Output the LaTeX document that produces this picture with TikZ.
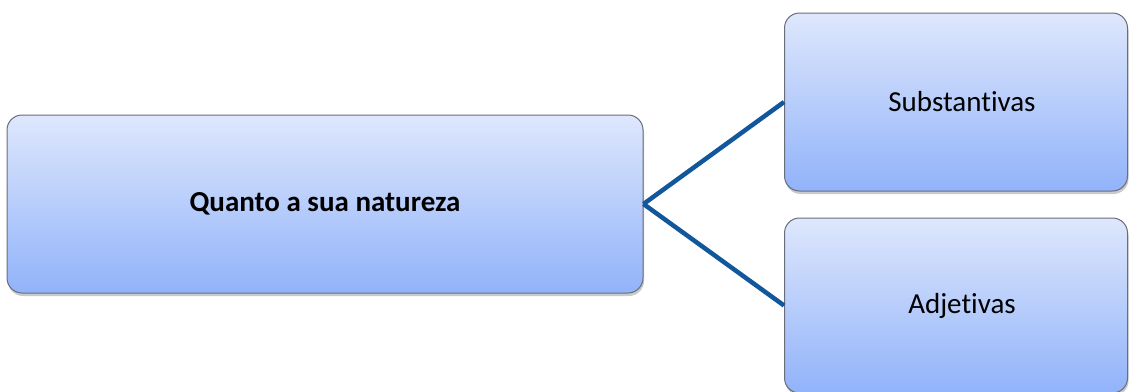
\documentclass[tikz,border=0pt]{standalone}
\usepackage{fontspec}
\setmainfont{Carlito}[Ligatures=NoCommon]
\usetikzlibrary{shadows}
\definecolor{boxtop}{RGB}{222,231,252}
\definecolor{boxbot}{RGB}{145,179,250}
\definecolor{boxline}{RGB}{105,110,120}
\definecolor{linkblue}{RGB}{18,86,155}
\tikzset{
  card/.style={draw=boxline, line width=1pt, rounded corners=15pt,
    top color=boxtop, bottom color=boxbot,
    drop shadow={shadow xshift=1pt, shadow yshift=-3pt, opacity=0.35, fill=black!60},
    font=\fontsize{29}{34}\selectfont, align=center, inner sep=0pt},
  link/.style={draw=linkblue, line width=4.5pt}
}
\begin{document}
\begin{tikzpicture}[x=1pt,y=-1pt]
\useasboundingbox (0,0) rectangle (1129,391);
\clip (0,0) rectangle (1129,391);
\node[card, minimum width=636pt, minimum height=178pt] (nat) at (325,204) {\bfseries Quanto a sua natureza};
\node[card, minimum width=343pt, minimum height=178pt] (sub) at (956,102) {\hspace*{12pt}Substantivas};
\node[card, minimum width=343pt, minimum height=175pt] (adj) at (956,305.5) {\hspace*{12pt}Adjetivas};
\draw[link] (nat.east) -- (sub.west);
\draw[link] (nat.east) -- (adj.west);
\end{tikzpicture}
\end{document}
